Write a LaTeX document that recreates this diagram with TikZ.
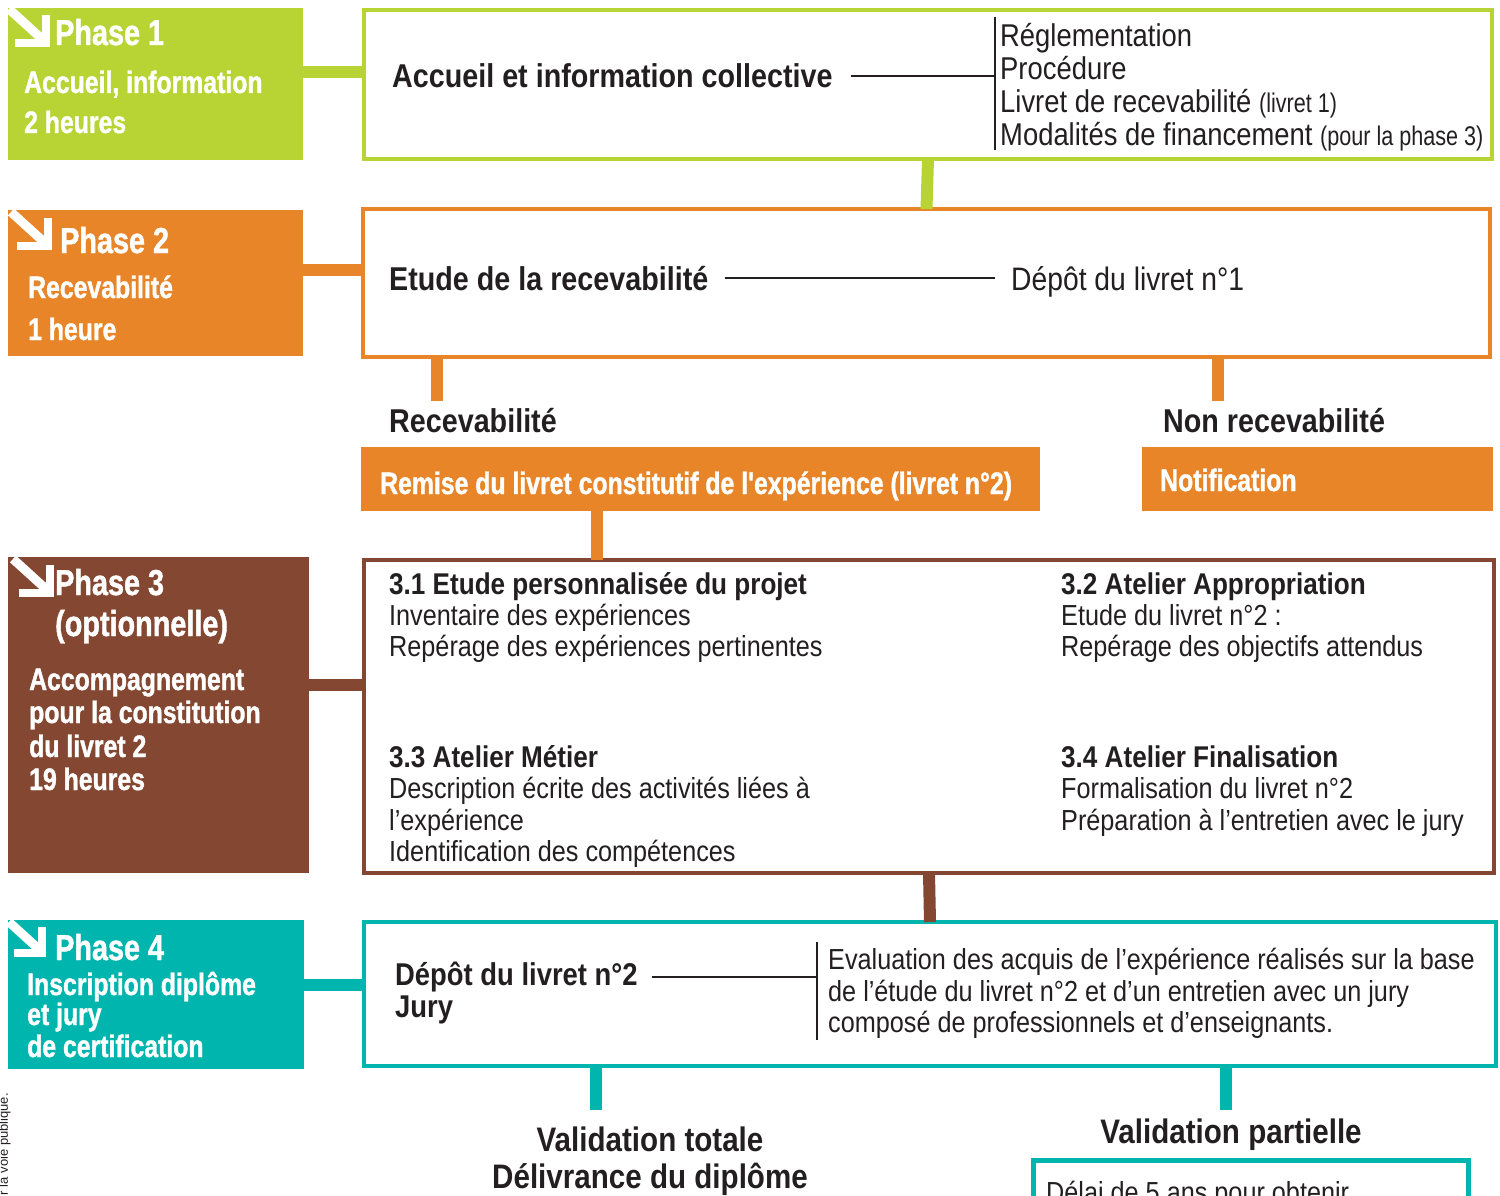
\documentclass[tikz,border=0pt]{standalone}
\usepackage{fontspec}
\setmainfont{Liberation Sans}[FakeStretch=0.87]
\newfontfamily\condfont{Liberation Sans}[FakeStretch=0.80,BoldFeatures={FakeBold=1.2}]
\newfontfamily\notefont{Liberation Sans}
\newcommand\cstsmallfont{\condfont\fontsize{27}{29}\selectfont}
\definecolor{first}{RGB}{184,212,52}
\definecolor{second}{RGB}{232,133,40}
\definecolor{third}{RGB}{132,71,50}
\definecolor{fourth}{RGB}{0,181,173}
\definecolor{ink}{RGB}{35,31,32}
\usetikzlibrary{
	positioning,
	calc
}
\tikzset{
  % boxes
	cstphase/.style  ={rectangle,anchor=north west,inner sep=0,outer sep=0},
	cstframe/.style  ={rectangle,anchor=north west,inner sep=0,outer sep=0,fill=white,line width=4pt},
  % text
	csthead/.style   ={anchor=base west,inner sep=0,text=white,font=\condfont\bfseries\fontsize{36}{40}\selectfont},
	cstsub/.style    ={anchor=base west,inner sep=0,text=white,font=\condfont\bfseries\fontsize{31}{34}\selectfont},
	cstbig/.style    ={anchor=base west,inner sep=0,text=ink,font=\bfseries\fontsize{33}{35}\selectfont},
	cstbold/.style   ={anchor=base west,inner sep=0,text=ink,font=\bfseries\fontsize{30}{32}\selectfont},
	cstitem/.style   ={anchor=base west,inner sep=0,text=ink,font=\fontsize{31.5}{33}\selectfont},
	csttext/.style   ={anchor=base west,inner sep=0,text=ink,font=\fontsize{29}{31}\selectfont},
  % lines
	cstlink/.style   ={line width=12pt},
	cstrule/.style   ={ink,line width=2pt},
	pics/cstarrow/.style={code={
		\draw[white,line width=9pt] (1,1) -- (34,31);
		\draw[white,line width=8pt] (7,35) -- (38,35) -- (38,7);
	}}
}
\begin{document}
\begin{tikzpicture}[x=1pt,y=-1pt]
	\useasboundingbox (0,0) rectangle (1500,1196);
	\clip (0,0) rectangle (1500,1196);
	% phase 1
	\node[cstphase,fill=first,minimum width=295,minimum height=152] (ph1) at (8,8) {};
	\pic at (8,8) {cstarrow};
	\node[csthead] (ph1-t) at (55,45) {Phase 1};
	\node[cstsub] (ph1-a) at (24,93) {Accueil, information};
	\node[cstsub] (ph1-b) at (24,133) {2 heures};
	\node[cstframe,draw=first,minimum width=1128,minimum height=149] (box1) at (364,10) {};
	\node[cstbig] (acc) at (392,88) {Accueil et information collective};
	\coordinate (bar1) at (995,0);
	\draw[cstrule] (995,17) -- (995,150);
	\draw[cstrule] ([xshift=18]acc.east) -- (acc.east -| bar1);
	\node[cstitem] (it1) at (1000,47) {Réglementation};
	\node[cstitem] (it2) at (1000,80) {Procédure};
	\node[cstitem] (it3) at (1000,113) {Livret de recevabilité {\cstsmallfont(livret 1)}};
	\node[cstitem] (it4) at (1000,146) {Modalités de financement {\cstsmallfont(pour la phase 3)}};
	\coordinate (c1) at (0,72);
	\draw[cstlink,first] (ph1.east |- c1) -- (box1.west |- c1);
	% phase 2
	\node[cstphase,fill=second,minimum width=295,minimum height=146] (ph2) at (8,210) {};
	\pic at (10,211) {cstarrow};
	\node[csthead] (ph2-t) at (60,253) {Phase 2};
	\node[cstsub] (ph2-a) at (28,298) {Recevabilité};
	\node[cstsub] (ph2-b) at (28,340) {1 heure};
	\node[cstframe,draw=second,minimum width=1127,minimum height=148] (box2) at (363,209) {};
	\draw[cstlink,first] (box1.south) -- (box2.north);
	\node[cstbig] (etude) at (389,290) {Etude de la recevabilité};
	\node[cstitem,font=\fontsize{32.5}{34}\selectfont] (depot1) at (1011,290) {Dépôt du livret n°1};
	\draw[cstrule] ([xshift=16]etude.east) -- ($(etude.east -| depot1.west)+(-16,0)$);
	\coordinate (c2) at (0,270);
	\draw[cstlink,second] (ph2.east |- c2) -- (box2.west |- c2);
	% recevabilite
	\node[cstbig] (rec) at (389,432) {Recevabilité};
	\node[cstbig] (nonrec) at (1163,432) {Non recevabilité};
	\coordinate (r1) at (437,401);
	\coordinate (r2) at (1218,401);
	\draw[cstlink,second] (box2.south -| r1) -- (r1);
	\draw[cstlink,second] (box2.south -| r2) -- (r2);
	\node[cstphase,fill=second,minimum width=679,minimum height=64] (remise) at (361,447) {};
	\node[cstsub] (remise-t) at (380,494) {Remise du livret constitutif de l'expérience (livret n°2)};
	\node[cstphase,fill=second,minimum width=351,minimum height=64] (notif) at (1142,447) {};
	\node[cstsub] (notif-t) at (1160,491) {Notification};
	% phase 3
	\node[cstphase,fill=third,minimum width=301,minimum height=316] (ph3) at (8,557) {};
	\pic at (12,558) {cstarrow};
	\node[csthead] (ph3-t) at (55,595) {Phase 3};
	\node[csthead] (ph3-o) at (55,636) {(optionnelle)};
	\node[cstsub] (ph3-a) at (29,690) {Accompagnement};
	\node[cstsub] (ph3-b) at (29,723) {pour la constitution};
	\node[cstsub] (ph3-c) at (29,757) {du livret 2};
	\node[cstsub] (ph3-d) at (29,790) {19 heures};
	\node[cstframe,draw=third,minimum width=1130,minimum height=313] (box3) at (364,560) {};
	\coordinate (r3) at (597,0);
	\draw[cstlink,second] (remise.south -| r3) -- (box3.north -| r3);
	\coordinate (c3) at (0,685);
	\draw[cstlink,third] (ph3.east |- c3) -- (box3.west |- c3);
	\node[cstbold] (a31) at (389,594) {3.1 Etude personnalisée du projet};
	\foreach \txt [count=\i] in {Inventaire des expériences,Repérage des expériences pertinentes}
		\node[csttext] (a31-\i) at (389,594+31*\i) {\txt};
	\node[cstbold] (a32) at (1061,594) {3.2 Atelier Appropriation};
	\foreach \txt [count=\i] in {Etude du livret n°2 :,Repérage des objectifs attendus}
		\node[csttext] (a32-\i) at (1061,594+31*\i) {\txt};
	\node[cstbold] (a33) at (389,767) {3.3 Atelier Métier};
	\foreach \txt [count=\i] in {Description écrite des activités liées à,l’expérience,Identification des compétences}
		\node[csttext] (a33-\i) at (389,767+31.5*\i) {\txt};
	\node[cstbold] (a34) at (1061,767) {3.4 Atelier Finalisation};
	\foreach \txt [count=\i] in {Formalisation du livret n°2,Préparation à l'entretien avec le jury}
		\node[csttext] (a34-\i) at (1061,767+31.5*\i) {\txt};
	% phase 4
	\node[cstphase,fill=fourth,minimum width=296,minimum height=149] (ph4) at (8,920) {};
	\pic[scale=.9] at (8,921) {cstarrow};
	\node[csthead] (ph4-t) at (55,960) {Phase 4};
	\node[cstsub] (ph4-a) at (27,995) {Inscription diplôme};
	\node[cstsub] (ph4-b) at (27,1025) {et jury};
	\node[cstsub] (ph4-c) at (27,1057) {de certification};
	\node[cstframe,draw=fourth,minimum width=1132,minimum height=144] (box4) at (364,922) {};
	\draw[cstlink,third] (box3.south) -- (box4.north);
	\coordinate (c4) at (0,985);
	\draw[cstlink,fourth] (ph4.east |- c4) -- (box4.west |- c4);
	\node[cstbig,font=\bfseries\fontsize{31.5}{33}\selectfont] (dep2) at (395,985) {Dépôt du livret n°2};
	\node[cstbig,font=\bfseries\fontsize{31.5}{33}\selectfont] (jury) at (395,1017) {Jury};
	\coordinate (bar4) at (817,0);
	\draw[cstrule] (817,942) -- (817,1040);
	\draw[cstrule] ([xshift=14]dep2.east) -- (dep2.east -| bar4);
	\foreach \txt [count=\i] in {Evaluation des acquis de l'expérience réalisés sur la base,de l'étude du livret n°2 et d’un entretien avec un jury,composé de professionnels et d'enseignants.}
		\node[csttext] (ev-\i) at (828,938+31.5*\i) {\txt};
	% validation
	\coordinate (v1) at (596,1110);
	\coordinate (v2) at (1226,1110);
	\draw[cstlink,fourth] (box4.south -| v1) -- (v1);
	\draw[cstlink,fourth] (box4.south -| v2) -- (v2);
	\node[cstbig,anchor=base,font=\bfseries\fontsize{34}{36}\selectfont] (vt) at (650,1151) {Validation totale};
	\node[cstbig,anchor=base,font=\bfseries\fontsize{34}{36}\selectfont] (vd) at (650,1188) {Délivrance du diplôme};
	\node[cstbig,anchor=base,font=\bfseries\fontsize{34}{36}\selectfont] (vp) at (1231,1143) {Validation partielle};
	\node[cstframe,draw=fourth,line width=5pt,minimum width=435,minimum height=120] (delai) at (1033,1160) {};
	\node[csttext] (delai-t) at (1046,1202) {Délai de 5 ans pour obtenir};
	\node[rotate=90,anchor=base east,inner sep=0,text=ink,font=\notefont\fontsize{13}{14}\selectfont] (note) at (8,1093) {r la voie publique.};
\end{tikzpicture}
\end{document}
